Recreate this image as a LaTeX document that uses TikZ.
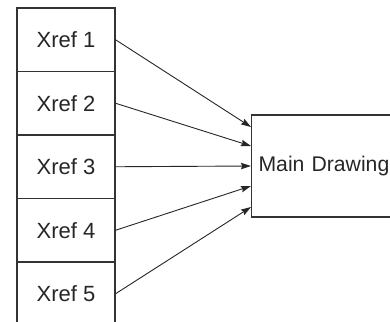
\documentclass[tikz,border=0pt]{standalone}
\usepackage{fontspec}
\setmainfont{Liberation Sans}
\usetikzlibrary{arrows.meta}
\definecolor{edge}{HTML}{333333}
\begin{document}
\begin{tikzpicture}[x=0.5pt,y=-0.5pt,
  xrefbox/.style={draw=edge,line width=0.55pt,minimum width=49pt,minimum height=31.75pt,inner sep=0pt,
    font=\fontsize{11}{13}\selectfont,text=black!85},
  mainbox/.style={draw=edge,line width=0.55pt,minimum width=75pt,minimum height=51pt,inner sep=0pt,
    text width=72pt,align=left,font=\fontsize{10.6}{13}\selectfont,text=black!85},
  link/.style={draw=black!85,line width=0.45pt,-{Stealth[length=5pt,width=3.2pt,inset=0.6pt]}}]
\useasboundingbox (0,0) rectangle (390,321);
\clip (0,0) rectangle (390,321);
\node[xrefbox] (x1) at (66,39.75) {Xref 1};
\node[xrefbox] (x2) at (66,103.25) {Xref 2};
\node[xrefbox] (x3) at (66,166.75) {Xref 3};
\node[xrefbox] (x4) at (66,230.25) {Xref 4};
\node[xrefbox] (x5) at (66,293.75) {Xref 5};
\node[mainbox,anchor=west] (main) at (251,166) {\hspace*{2pt}Main Drawing};
\coordinate (m1) at ([yshift=19.5pt]main.west);
\coordinate (m2) at ([yshift=10pt]main.west);
\coordinate (m3) at (main.west);
\coordinate (m4) at ([yshift=-10pt]main.west);
\coordinate (m5) at ([yshift=-20.5pt]main.west);
\draw[link] (x1.east) -- (m1);
\draw[link] (x2.east) -- (m2);
\draw[link] (x3.east) -- (m3);
\draw[link] (x4.east) -- (m4);
\draw[link] (x5.east) -- (m5);
\end{tikzpicture}
\end{document}
